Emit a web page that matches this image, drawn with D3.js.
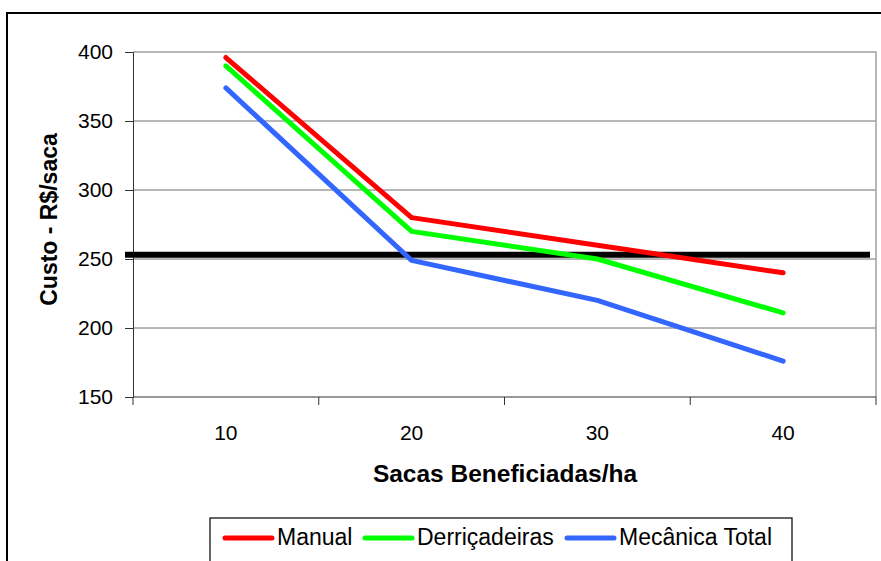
<!DOCTYPE html>
<html>
<head>
  <meta charset="utf-8">
  <title>Custo por saca</title>
  <script src="https://d3js.org/d3.v7.min.js"></script>
  <style>
    body { margin: 0; background: #fff; }
    svg { font-family: "Liberation Sans", Arial, sans-serif; }
  </style>
</head>
<body>
  <svg width="881" height="561"></svg>
  <script>
    const categorias = ["10", "20", "30", "40"];
    const manual = [396, 280, 260, 240];
    const derricadeiras = [390, 270, 250, 211];
    const mecanica = [374, 249, 220, 176];
    const yTicks = [150, 200, 250, 300, 350, 400];
    const referencia = 253;

    const series = [
      { nome: "Manual", cor: "#ff0000", valores: manual },
      { nome: "Derriçadeiras", cor: "#00ff00", valores: derricadeiras },
      { nome: "Mecânica Total", cor: "#3366ff", valores: mecanica }
    ];

    const svg = d3.select("svg");
    const plot = { left: 133, top: 52, right: 876, bottom: 397 };

    // outer chart border (cut off at right/bottom like the original)
    svg.append("rect")
      .attr("x", 7).attr("y", 13)
      .attr("width", 900).attr("height", 600)
      .attr("fill", "none").attr("stroke", "#000").attr("stroke-width", 2);

    const x = d3.scaleBand().domain(categorias).range([plot.left, plot.right]);
    const y = d3.scaleLinear().domain([150, 400]).range([plot.bottom, plot.top]);

    // gridlines
    svg.append("g").selectAll("line")
      .data(yTicks.filter(d => d > 150 && d < 400))
      .join("line")
      .attr("x1", plot.left).attr("x2", plot.right)
      .attr("y1", d => y(d)).attr("y2", d => y(d))
      .attr("stroke", "#6e6e6e").attr("stroke-width", 1);

    // plot area border (top/right)
    svg.append("path")
      .attr("d", `M${plot.left},${y(400)}H${plot.right}V${plot.bottom}`)
      .attr("fill", "none").attr("stroke", "#a0a0a0").attr("stroke-width", 1.5);

    // y axis
    const yAxis = svg.append("g")
      .attr("transform", `translate(${plot.left},0)`)
      .call(d3.axisLeft(y).tickValues(yTicks).tickSize(8).tickPadding(12));
    yAxis.select(".domain").attr("stroke", "#333");
    yAxis.selectAll(".tick line").attr("stroke", "#333");
    yAxis.selectAll("text").attr("font-size", 21).attr("fill", "#000")
      .attr("font-family", "Liberation Sans, Arial, sans-serif");

    // x axis: ticks between categories
    svg.append("line")
      .attr("x1", plot.left).attr("x2", plot.right)
      .attr("y1", plot.bottom).attr("y2", plot.bottom)
      .attr("stroke", "#333");
    const bordas = categorias.map(c => x(c)).concat([x.range()[1]]);
    svg.append("g").selectAll("line")
      .data(bordas).join("line")
      .attr("x1", d => d).attr("x2", d => d)
      .attr("y1", plot.bottom).attr("y2", plot.bottom + 8)
      .attr("stroke", "#333");
    svg.append("g").selectAll("text")
      .data(categorias).join("text")
      .attr("x", d => x(d) + x.bandwidth() / 2)
      .attr("y", 440)
      .attr("text-anchor", "middle")
      .attr("font-size", 21)
      .text(d => d);

    // axis titles
    svg.append("text")
      .attr("x", 505).attr("y", 482)
      .attr("text-anchor", "middle")
      .attr("font-size", 24.5).attr("font-weight", "bold")
      .text("Sacas Beneficiadas/ha");
    svg.append("text")
      .attr("transform", `translate(57,${(plot.top + plot.bottom) / 2 - 5}) rotate(-90)`)
      .attr("text-anchor", "middle")
      .attr("font-size", 23).attr("font-weight", "bold")
      .text("Custo - R$/saca");

    // thick reference line
    svg.append("line")
      .attr("x1", plot.left - 8).attr("x2", plot.right - 6)
      .attr("y1", y(referencia)).attr("y2", y(referencia))
      .attr("stroke", "#000").attr("stroke-width", 6);

    // series lines
    const line = d3.line()
      .x((d, i) => x(categorias[i]) + x.bandwidth() / 2)
      .y(d => y(d));
    svg.append("g").selectAll("path")
      .data(series).join("path")
      .attr("d", d => line(d.valores))
      .attr("fill", "none")
      .attr("stroke", d => d.cor)
      .attr("stroke-width", 5)
      .attr("stroke-linecap", "round")
      .attr("stroke-linejoin", "round");

    // legend
    const leg = svg.append("g");
    leg.append("rect")
      .attr("x", 210).attr("y", 518)
      .attr("width", 582).attr("height", 44)
      .attr("fill", "#fff").attr("stroke", "#000").attr("stroke-width", 1.2);
    const legX = [225, 365, 567];
    series.forEach((s, i) => {
      leg.append("line")
        .attr("x1", legX[i]).attr("x2", legX[i] + 47)
        .attr("y1", 538).attr("y2", 538)
        .attr("stroke", s.cor).attr("stroke-width", 5)
        .attr("stroke-linecap", "round");
      leg.append("text")
        .attr("x", legX[i] + 52).attr("y", 545)
        .attr("font-size", 23)
        .text(s.nome);
    });
  </script>
</body>
</html>
